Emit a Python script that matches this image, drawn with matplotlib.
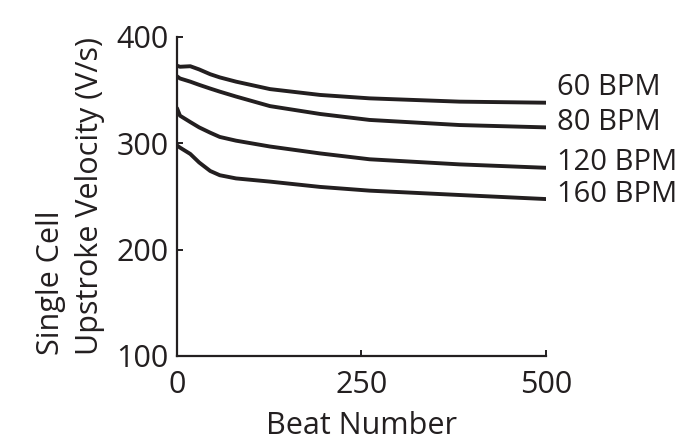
import matplotlib.pyplot as plt

# values
beats = [0, 4, 18, 30, 45, 58, 80, 126, 194, 261, 383, 500]

bpm60 = [373, 372, 372.5, 369.5, 365, 362, 358, 351, 345.5, 342.3, 339.2, 338.2]
bpm80 = [363, 361, 358, 355, 351.5, 348.6, 344, 335, 327.6, 322, 317.2, 315]
bpm120 = [333, 326, 320, 315, 310, 306, 302.5, 297, 290.5, 285, 280.2, 277]
bpm160 = [298, 296, 290, 282, 274, 270, 267, 264, 259, 255.5, 251.4, 247.6]

series = [bpm60, bpm80, bpm120, bpm160]
labels = ["60 BPM", "80 BPM", "120 BPM", "160 BPM"]
label_lift = [11, 3.5, 4, 3]

xticks = [0, 250, 500]
yticks = [100, 200, 300, 400]

ink = "#231f20"
plt.rcParams['font.family'] = ['Open Sans', 'DejaVu Sans']

fig = plt.figure(figsize=(6.98, 4.43), dpi=100)
ax = fig.add_axes([0.2536, 0.1964, 0.782 - 0.2536, 0.9165 - 0.1964])

for values, label, lift in zip(series, labels, label_lift):
    ax.plot(beats, values, color=ink, linewidth=2.8, solid_capstyle='round',
            solid_joinstyle='round')
    ax.annotate(label, (beats[-1], values[-1]), xytext=(8, lift), textcoords="offset points",
                va="center", ha="left", fontsize=21, color=ink, annotation_clip=False)

ax.set_xlim(0, 500)
ax.set_ylim(100, 400)
ax.set_xticks(xticks)
ax.set_yticks(yticks)

for side in ["top", "right"]:
    ax.spines[side].set_visible(False)
for side in ["left", "bottom"]:
    ax.spines[side].set_linewidth(1.6)
    ax.spines[side].set_color(ink)

ax.tick_params(direction="in", length=4, width=1.4, colors=ink, labelsize=22)
ax.tick_params(axis="x", pad=10)
ax.tick_params(axis="y", pad=6)

ax.set_xlabel("Beat Number", fontsize=22, color=ink, labelpad=8)
ax.set_ylabel("Single Cell\nUpstroke Velocity (V/s)", fontsize=22, color=ink,
              multialignment="left", labelpad=8, linespacing=1.4)

fig.savefig("out.png", dpi=100)
